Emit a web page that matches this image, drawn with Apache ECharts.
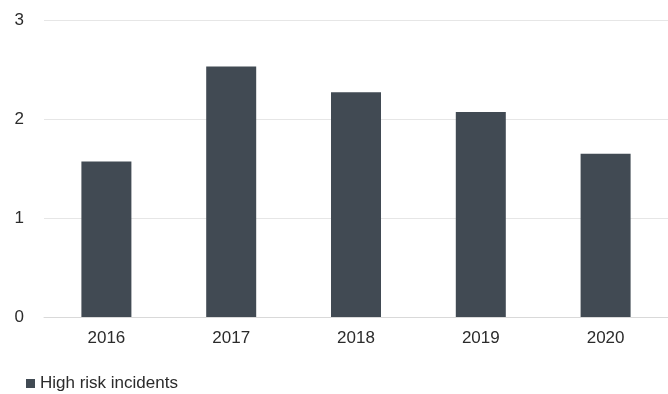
<!DOCTYPE html>
<html>
<head>
<meta charset="utf-8">
<script src="https://cdn.jsdelivr.net/npm/echarts@6/dist/echarts.min.js"></script>
<style>
  html, body { margin: 0; padding: 0; background: #ffffff; }
  #chart { width: 668px; height: 394px; }
</style>
</head>
<body>
<div id="chart"></div>
<script>
// Yearly counts of high risk incidents
const years = ['2016', '2017', '2018', '2019', '2020'];
const highRiskIncidents = [1.57, 2.53, 2.27, 2.07, 1.65];
const yTicks = [0, 1, 2, 3];
const seriesName = 'High risk incidents';

const chart = echarts.init(document.getElementById('chart'));
chart.setOption({
  animation: false,
  backgroundColor: '#ffffff',
  textStyle: { fontFamily: 'Liberation Sans, Arial, sans-serif' },
  grid: { left: 44, right: -3, top: 20, bottom: 77, containLabel: false },
  legend: {
    data: [seriesName],
    left: 26,
    top: 375,
    padding: 0,
    icon: 'rect',
    itemWidth: 9,
    itemHeight: 9,
    itemGap: 5,
    textStyle: { fontSize: 17, color: '#2b2b2b' }
  },
  xAxis: {
    type: 'category',
    data: years,
    axisLine: { lineStyle: { color: '#d9d9d9', width: 1 } },
    axisTick: { show: false },
    axisLabel: { fontSize: 17, color: '#2b2b2b', margin: 13 }
  },
  yAxis: {
    type: 'value',
    min: yTicks[0],
    max: yTicks[yTicks.length - 1],
    interval: 1,
    axisLine: { show: false },
    axisTick: { show: false },
    axisLabel: { fontSize: 17, color: '#2b2b2b', margin: 20 },
    splitLine: { lineStyle: { color: '#e6e6e6', width: 1 } }
  },
  series: [{
    name: seriesName,
    type: 'bar',
    data: highRiskIncidents,
    barWidth: 50,
    itemStyle: { color: '#414a53' }
  }]
});
</script>
</body>
</html>
